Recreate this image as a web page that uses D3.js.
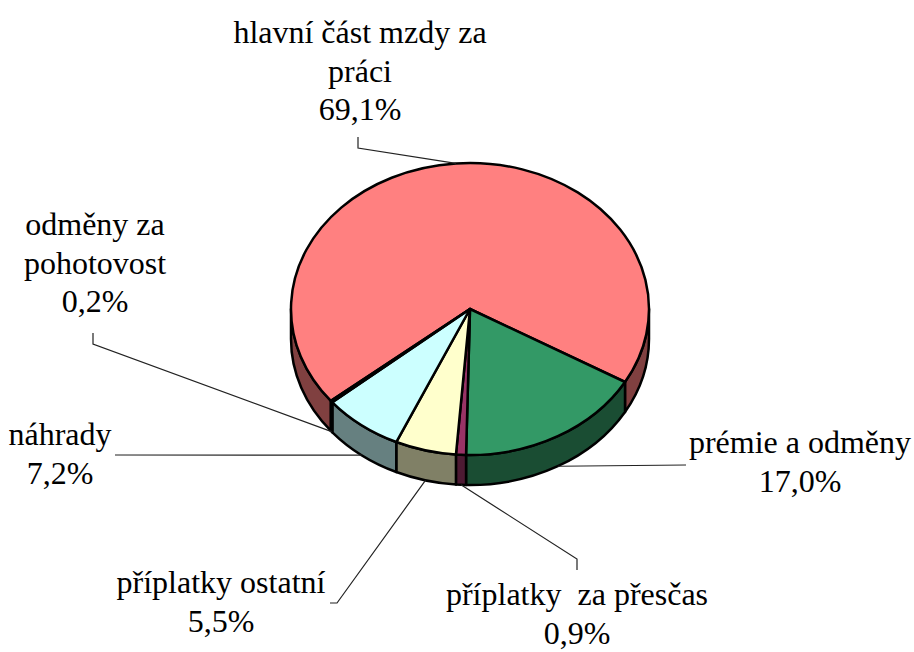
<!DOCTYPE html>
<html>
<head>
<meta charset="utf-8">
<script src="https://cdn.jsdelivr.net/npm/d3@7"></script>
<style>
  html, body { margin: 0; padding: 0; background: #fff; }
  svg text { font-family: "Liberation Serif", Tinos, "Times New Roman", Times, "DejaVu Serif", "Noto Serif", FreeSerif, serif; }
</style>
</head>
<body>
<div id="chart"></div>
<script>
(function(){
  // data
  const names = ["hlavní část mzdy za\npráci", "prémie a odměny", "příplatky  za přesčas",
    "příplatky ostatní", "náhrady", "odměny za\npohotovost"];
  const values = [69.1, 17.0, 0.9, 5.5, 7.2, 0.2];
  const colors = ["#FF8080", "#339966", "#993366", "#FFFFCC", "#CCFFFF", "#660066"];

  // label layout: centre x, first baseline, elbow points of the leader line
  const labelLayout = [
    { x: 360, y: 43, elbow: [[358, 137], [358, 148]] },
    { x: 800, y: 453, elbow: [[686, 465]] },
    { x: 577, y: 605, elbow: [[577, 570], [577, 559]] },
    { x: 221, y: 593, elbow: [[330, 603], [337, 603]] },
    { x: 60, y: 445, elbow: [[115, 455]] },
    { x: 95, y: 235, elbow: [[93, 333], [93, 344]] }
  ];

  const width = 914, height = 652;
  const cx = 470, cy = 309, rx = 179, ry = 146, depth = 30;
  const lineH = 38.5;
  const fmt = v => d3.format(".1f")(v).replace(".", ",") + "%";

  const svg = d3.select("#chart").append("svg")
    .attr("width", width)
    .attr("height", height);

  // pie angles (d3: 0 at 12 o'clock, clockwise); first slice ends at 120deg
  const total = d3.sum(values);
  const start = (120 - values[0] / total * 360) * Math.PI / 180;
  const arcs = d3.pie().sort(null).startAngle(start).endAngle(start + 2 * Math.PI)(values);

  const px = a => cx + rx * Math.sin(a);
  const py = (a, dz) => cy - ry * Math.cos(a) + (dz || 0);

  const shade = c => { const r = d3.rgb(c); return d3.rgb(r.r / 2, r.g / 2, r.b / 2).formatHex(); };

  // visible (front) parts of each slice's side wall
  const walls = [];
  arcs.forEach((d, i) => {
    for (let k = -1; k <= 1; k++) {
      const lo = Math.PI / 2 + k * 2 * Math.PI, hi = 3 * Math.PI / 2 + k * 2 * Math.PI;
      const a0 = Math.max(d.startAngle, lo), a1 = Math.min(d.endAngle, hi);
      if (a1 > a0) walls.push({ i: i, a0: a0, a1: a1 });
    }
  });

  svg.append("g").selectAll("path.wall")
    .data(walls)
    .enter()
    .append("path")
    .attr("class", "wall")
    .attr("d", w => `M${px(w.a0)},${py(w.a0)}` +
      `A${rx},${ry} 0 0 1 ${px(w.a1)},${py(w.a1)}` +
      `L${px(w.a1)},${py(w.a1, depth)}` +
      `A${rx},${ry} 0 0 0 ${px(w.a0)},${py(w.a0, depth)}Z`)
    .style("fill", w => shade(colors[w.i]))
    .style("stroke", "#000")
    .style("stroke-width", 2.5)
    .style("stroke-linejoin", "round");

  // top faces
  svg.append("g").selectAll("path.top")
    .data(arcs)
    .enter()
    .append("path")
    .attr("class", "top")
    .attr("d", d => {
      const large = d.endAngle - d.startAngle > Math.PI ? 1 : 0;
      return `M${cx},${cy}L${px(d.startAngle)},${py(d.startAngle)}` +
        `A${rx},${ry} 0 ${large} 1 ${px(d.endAngle)},${py(d.endAngle)}Z`;
    })
    .style("fill", (d, i) => colors[i])
    .style("stroke", "#000")
    .style("stroke-width", 2.5)
    .style("stroke-linejoin", "round");

  // leader lines
  svg.append("g").selectAll("path.leader")
    .data(arcs)
    .enter()
    .append("path")
    .attr("class", "leader")
    .attr("d", (d, i) => {
      const m = (d.startAngle + d.endAngle) / 2;
      const front = Math.cos(m) < 0;
      const pts = labelLayout[i].elbow.concat([[px(m), py(m, front ? depth : 0)]]);
      return d3.line()(pts);
    })
    .style("fill", "none")
    .style("stroke", "#222")
    .style("stroke-width", 1.2);

  // labels
  const labels = svg.append("g").selectAll("text.lbl")
    .data(arcs)
    .enter()
    .append("text")
    .attr("class", "lbl")
    .attr("text-anchor", "middle")
    .style("font-size", "32px")
    .style("fill", "#000")
    .style("white-space", "pre");

  labels.each(function(d, i) {
    const lines = names[i].split("\n").concat([fmt(values[i])]);
    d3.select(this).selectAll("tspan")
      .data(lines)
      .enter()
      .append("tspan")
      .attr("x", labelLayout[i].x)
      .attr("y", (t, j) => labelLayout[i].y + j * lineH)
      .text(t => t);
  });
})();
</script>
</body>
</html>
